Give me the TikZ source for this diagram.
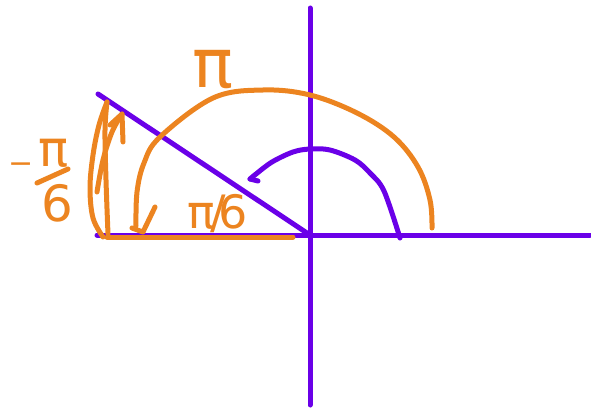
\documentclass[tikz,border=0pt]{standalone}
\usepackage{fontspec}
\setmainfont{DejaVu Sans}
\definecolor{pur}{HTML}{6A00E8}
\definecolor{org}{HTML}{EC8420}
\begin{document}
\begin{tikzpicture}[x=1pt,y=-1pt,
  pen/.style={line width=5pt, line cap=round, line join=round},
  pp/.style={pen, draw=pur},
  op/.style={pen, draw=org},
  lbl/.style={text=org, inner sep=0pt, font=\fontsize{50}{50}\selectfont}]
\useasboundingbox (0,0) rectangle (591,412);
% axes and ray
\coordinate (O) at (310,235);
\coordinate (yt) at (310,8);
\coordinate (yb) at (310,405);
\coordinate (xl) at (97,235);
\coordinate (xr) at (590,235);
\coordinate (ray) at (98,94);
\draw[pp] (yt) -- (yb);
\draw[pp] (xl) -- (xr);
\draw[pp] (ray) -- (O);
% small purple arc
\draw[pp] plot[smooth, tension=0.55] coordinates {(400,238) (384,191) (370,173) (355,160) (330,150) (310,149) (293,152) (272,162) (256,174) (250,179)};
\draw[pp] (250,179) -- (258,181);
% orange base segment
\draw[op] (107,237) -- (293,237);
% big orange arc with arrow
\draw[op] plot[smooth, tension=0.6] coordinates {(432,228) (430,200) (418,167) (394,137) (357,113) (310,95) (263,90) (213,98) (160,137) (144,163) (137,192) (136,226)};
\draw[op] (132,228) -- (143,232) -- (155,207);
% left loop arrow
\draw[op] plot[smooth, tension=0.6] coordinates {(108,234) (106,180) (105,130) (107,102)};
\draw[op] plot[smooth, tension=0.6] coordinates {(107,102) (99,125) (93,155) (90,188) (93,218) (103,237)};
\draw[op] plot[smooth, tension=0.6] coordinates {(97,192) (103,160) (112,132) (122,114)};
\draw[op] (110,125) -- (122,114) -- (123,142);
% labels
\node[lbl, font=\fontsize{68}{68}\selectfont] (pitop) at (213,70) {π};
\node[lbl, font=\fontsize{30}{30}\selectfont] (mminus) at (21,168) {−};
\node[lbl] (mpi) at (54,153) {π};
\draw[op] (37,183) -- (68,169);
\node[lbl] (msix) at (57,203) {6};
\node[lbl, font=\fontsize{46}{46}\selectfont] (bfrac) at (218,214) {π\kern-0.12em/\kern-0.15em6};
\end{tikzpicture}
\end{document}
